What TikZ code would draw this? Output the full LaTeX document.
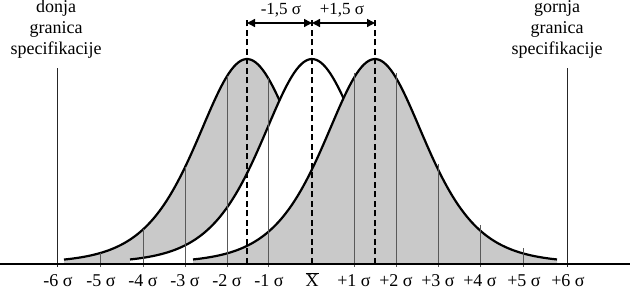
\documentclass[tikz,border=0pt]{standalone}
\usepackage{fontspec}
\setmainfont{Liberation Serif}
\usetikzlibrary{arrows.meta}
\begin{document}
\begin{tikzpicture}[x=1pt,y=1pt,
  declare function={bell(\x,\c)=28+204/(cosh((\x-\c)/67))^2;},
  bellgray/.style={fill=gray!42},
  bellwhite/.style={fill=white},
  bellline/.style={draw=black, line width=2.2pt, line join=round},
  sigline/.style={draw=black!65, line width=0.9pt},
  speclimit/.style={draw=black!85, line width=0.9pt},
  meanline/.style={draw=black, line width=1.6pt, dash pattern=on 6pt off 3.5pt},
  shiftarrow/.style={draw=black, line width=1.4pt, {Triangle[length=8pt,width=8pt]}-{Triangle[length=8pt,width=8pt]}},
  axislab/.style={font=\fontsize{18}{21}\selectfont, anchor=base, inner sep=0pt},
  speclab/.style={font=\fontsize{18}{21}\selectfont, anchor=base, inner sep=0pt},
]
\useasboundingbox (0,0) rectangle (630,291);

% left shifted distribution
\fill[bellgray] (64,27) -- plot[domain=64:430,samples=150] (\x,{bell(\x,247)}) -- (430,27) -- cycle;
\draw[bellline] plot[domain=64:430,samples=150] (\x,{bell(\x,247)});
% centred distribution
\fill[bellwhite] (130,27) -- plot[domain=130:495,samples=150] (\x,{bell(\x,312)}) -- (495,27) -- cycle;
\draw[bellline] plot[domain=130:495,samples=150] (\x,{bell(\x,312)});
% right shifted distribution
\fill[bellgray] (193,27) -- plot[domain=193:557,samples=150] (\x,{bell(\x,375)}) -- (557,27) -- cycle;
\draw[bellline] plot[domain=193:557,samples=150] (\x,{bell(\x,375)});

% sigma lines
\foreach \xx in {100,143,185,227,268} {
  \pgfmathsetmacro\tp{bell(\xx,247)}
  \coordinate (sb\xx) at (\xx,24);
  \coordinate (st\xx) at (\xx,\tp);
  \draw[sigline] (sb\xx) -- (st\xx);
}
\foreach \xx in {354,396,438,480,523} {
  \pgfmathsetmacro\tp{bell(\xx,375)+5}
  \coordinate (sb\xx) at (\xx,24);
  \coordinate (st\xx) at (\xx,\tp);
  \draw[sigline] (sb\xx) -- (st\xx);
}
% specification limits
\coordinate (lslb) at (57,24);
\coordinate (lslt) at (57,223);
\coordinate (uslb) at (567,24);
\coordinate (uslt) at (567,223);
\draw[speclimit] (lslb) -- (lslt);
\draw[speclimit] (uslb) -- (uslt);

% dashed mean lines
\coordinate (dlb) at (247,27);
\coordinate (dlt) at (247,273);
\coordinate (dmb) at (312,27);
\coordinate (dmt) at (312,273);
\coordinate (drb) at (375,27);
\coordinate (drt) at (375,273);
\draw[meanline] (dlb) -- (dlt);
\draw[meanline] (dmb) -- (dmt);
\draw[meanline] (drb) -- (drt);

% shift arrows
\coordinate (al) at (247,268);
\coordinate (am) at (312,268);
\coordinate (ar) at (375,268);
\draw[shiftarrow] (al) -- (am);
\draw[shiftarrow] (am) -- (ar);
\node[axislab, font=\fontsize{17}{20}\selectfont] (shl) at (281,276) {-1,5 σ};
\node[axislab, font=\fontsize{17}{20}\selectfont] (shr) at (342,276) {+1,5 σ};

% axis
\coordinate (ax0) at (0,27);
\coordinate (ax1) at (630,27);
\draw[line width=2.5pt] (ax0) -- (ax1);

% axis labels
\node[axislab] (lm6) at (58,4.5) {-6 σ};
\node[axislab] (lm5) at (101,4.5) {-5 σ};
\node[axislab] (lm4) at (143,4.5) {-4 σ};
\node[axislab] (lm3) at (185,4.5) {-3 σ};
\node[axislab] (lm2) at (227,4.5) {-2 σ};
\node[axislab] (lm1) at (269,4.5) {-1 σ};
\node[axislab] (lxb) at (312,4.5) {$\overline{\hbox{X}}$};
\node[axislab] (lp1) at (354,4.5) {+1 σ};
\node[axislab] (lp2) at (396,4.5) {+2 σ};
\node[axislab] (lp3) at (438,4.5) {+3 σ};
\node[axislab] (lp4) at (480,4.5) {+4 σ};
\node[axislab] (lp5) at (524,4.5) {+5 σ};
\node[axislab] (lp6) at (568,4.5) {+6 σ};

% specification limit labels
\node[speclab] (ls1) at (56,278) {donja};
\node[speclab] (ls2) at (56,257) {granica};
\node[speclab] (ls3) at (56,236) {specifikacije};
\node[speclab] (us1) at (557,278) {gornja};
\node[speclab] (us2) at (557,257) {granica};
\node[speclab] (us3) at (557,236) {specifikacije};
\end{tikzpicture}
\end{document}
